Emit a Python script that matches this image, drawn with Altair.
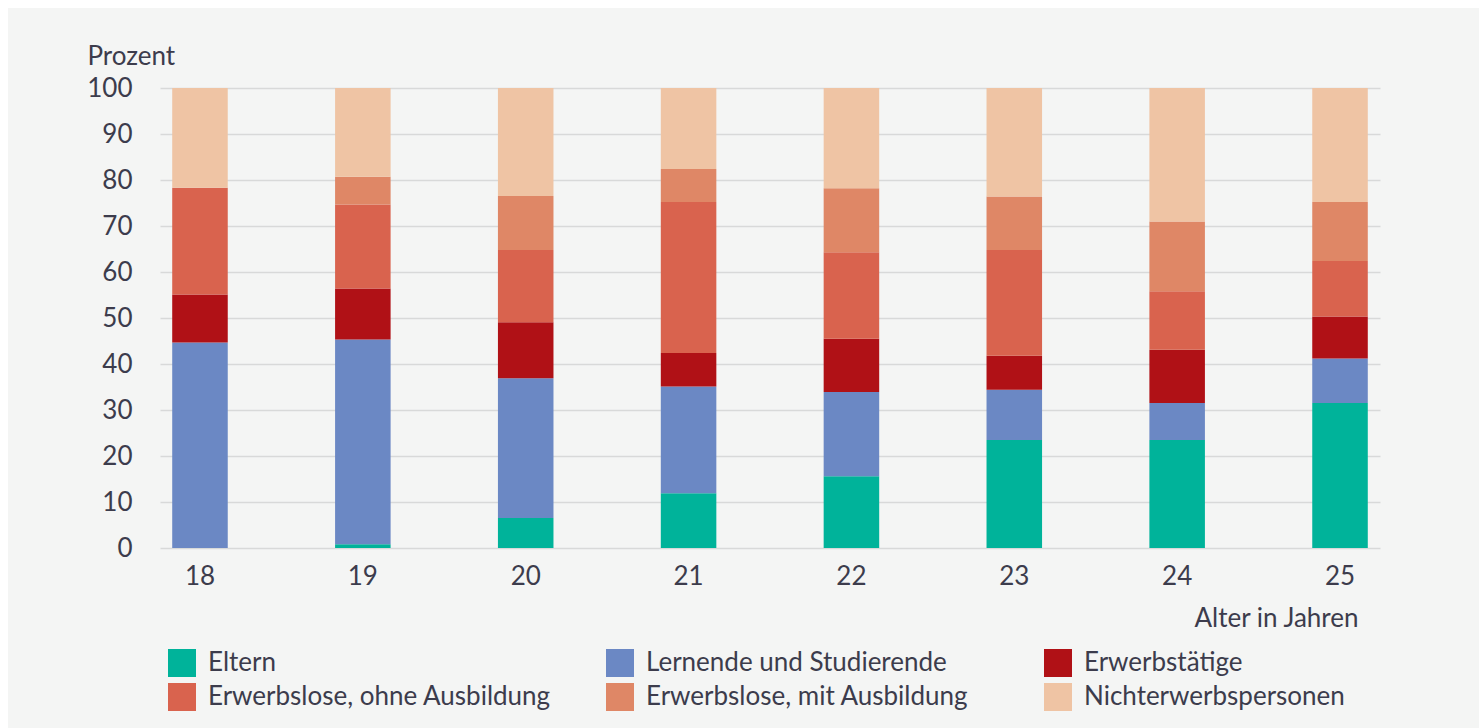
import altair as alt
import pandas as pd

# Age groups on the x axis
ages = ["18", "19", "20", "21", "22", "23", "24", "25"]

# Groups, bottom to top in each stacked bar
groups = [
    "Eltern",
    "Lernende und Studierende",
    "Erwerbstätige",
    "Erwerbslose, ohne Ausbildung",
    "Erwerbslose, mit Ausbildung",
    "Nichterwerbspersonen",
]
group_colors = ["#00b39a", "#6b88c4", "#b01116", "#d9634e", "#df8766", "#efc4a4"]

# Shares in percent per age
eltern = [0.0, 0.8, 6.5, 11.9, 15.6, 23.5, 23.5, 31.5]
lernende = [44.7, 44.5, 30.4, 23.2, 18.3, 10.9, 8.0, 9.7]
erwerbstaetige = [10.4, 11.1, 12.2, 7.3, 11.6, 7.4, 11.6, 9.1]
erwerbslos_ohne = [23.2, 18.3, 15.7, 32.8, 18.8, 23.0, 12.7, 12.1]
erwerbslos_mit = [0.0, 6.0, 11.7, 7.2, 13.9, 11.6, 15.2, 12.8]
nichterwerb = [21.7, 19.3, 23.5, 17.6, 21.8, 23.6, 29.0, 24.8]

y_ticks = list(range(0, 101, 10))

series = [eltern, lernende, erwerbstaetige, erwerbslos_ohne, erwerbslos_mit, nichterwerb]
rows = []
for rank, (name, values) in enumerate(zip(groups, series)):
    for age, v in zip(ages, values):
        rows.append({"Alter": age, "Gruppe": name, "Anteil": v, "Rang": rank})
df = pd.DataFrame(rows)

FONT = "Lato"
TEXT = "#3c3c4c"
FS = 26
W, H = 1220, 460
PAD = {"left": 160, "top": 88, "right": 99, "bottom": 180}

bars = alt.Chart(df).mark_bar(strokeWidth=0).encode(
    x=alt.X(
        "Alter:N",
        sort=ages,
        scale=alt.Scale(paddingInner=0.659, paddingOuter=0.075),
        axis=alt.Axis(
            title="Alter in Jahren",
            labelAngle=0,
            labelBaseline="alphabetic",
            labelPadding=36,
            grid=False,
            titleAnchor="end",
            titleAlign="right",
            titleBaseline="alphabetic",
            titleX=1198,
            titleY=78,
        ),
    ),
    y=alt.Y(
        "Anteil:Q",
        stack="zero",
        scale=alt.Scale(domain=[0, 100], nice=False),
        axis=alt.Axis(
            values=y_ticks,
            title="Prozent",
            titleAngle=0,
            titleAlign="left",
            titleBaseline="alphabetic",
            titleX=-73,
            titleY=-24,
            labelPadding=28,
            grid=True,
        ),
    ),
    color=alt.Color(
        "Gruppe:N",
        scale=alt.Scale(domain=groups, range=group_colors),
        legend=alt.Legend(
            title=None,
            orient="none",
            direction="horizontal",
            legendX=8,
            legendY=561,
            columns=3,
            gridAlign="all",
            symbolType="square",
            symbolSize=784,
            symbolStrokeWidth=0,
            labelOffset=12,
            labelLimit=600,
            rowPadding=6,
            columnPadding=55,
            padding=0,
        ),
    ),
    order=alt.Order("Rang:Q", sort="ascending"),
)

# Thin white margin along the top and left edge of the grey panel
edge = pd.DataFrame({"k": [0]})
top_strip = alt.Chart(edge).mark_rect(color="white", clip=False).encode(
    x=alt.value(-PAD["left"]), x2=alt.value(W + PAD["right"]),
    y=alt.value(-PAD["top"]), y2=alt.value(-PAD["top"] + 8),
)
left_strip = alt.Chart(edge).mark_rect(color="white", clip=False).encode(
    x=alt.value(-PAD["left"]), x2=alt.value(-PAD["left"] + 8),
    y=alt.value(-PAD["top"]), y2=alt.value(H + PAD["bottom"]),
)

chart = (
    alt.layer(top_strip, left_strip, bars)
    .properties(
        width=W,
        height=H,
        background="#f4f5f4",
        autosize=alt.AutoSizeParams(type="none"),
        padding=PAD,
    )
    .configure_view(stroke=None)
    .configure_axis(
        domain=False,
        ticks=False,
        tickSize=0,
        labelFont=FONT,
        labelFontSize=FS,
        labelColor=TEXT,
        titleFont=FONT,
        titleFontSize=FS,
        titleFontWeight="normal",
        titleColor=TEXT,
        gridColor="#d8d9d9",
        gridWidth=1.6,
    )
    .configure_legend(
        labelFont=FONT,
        labelFontSize=FS,
        labelColor=TEXT,
    )
)

chart.save("out.html", embed_options={"renderer": "svg", "actions": False})
